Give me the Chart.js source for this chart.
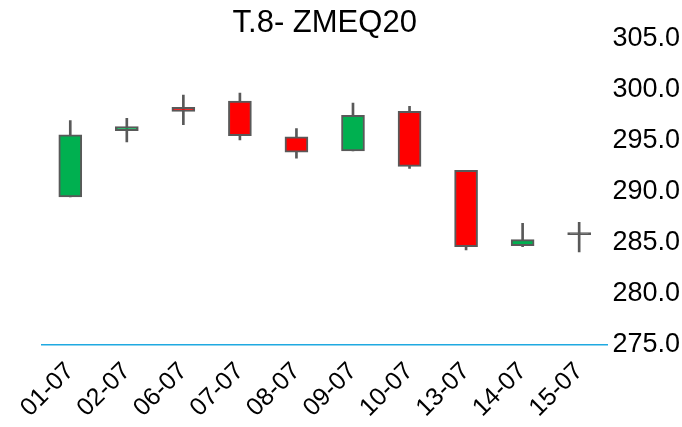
<!DOCTYPE html>
<html>
<head>
<meta charset="utf-8">
<script src="https://cdn.jsdelivr.net/npm/chart.js@4/dist/chart.umd.min.js"></script>
<style>
  html, body { margin: 0; padding: 0; background: #fff; }
  #wrap { width: 682px; height: 427px; }
</style>
</head>
<body>
<div id="wrap"><canvas id="myChart" width="682" height="427"></canvas></div>
<script>
// candle data
var labels = ['01-07', '02-07', '06-07', '07-07', '08-07', '09-07', '10-07', '13-07', '14-07', '15-07'];
var opens  = [289.5, 296.0, 298.3, 298.9, 295.4, 294.0, 297.9, 292.1, 284.7, 285.8];
var highs  = [297.0, 297.2, 299.5, 299.7, 296.2, 298.7, 298.4, 292.1, 286.9, 287.0];
var lows   = [289.5, 294.9, 296.6, 295.1, 293.3, 294.0, 292.3, 284.3, 284.6, 284.1];
var closes = [295.6, 296.4, 297.9, 295.5, 293.9, 297.5, 292.5, 284.6, 285.3, 285.8];
var yTicks = [275, 280, 285, 290, 295, 300, 305];

var bodies = [], wicks = [], bodyColors = [];
for (var i = 0; i < labels.length; i++) {
  bodies.push([opens[i], closes[i]]);
  wicks.push([lows[i], highs[i]]);
  if (closes[i] > opens[i]) bodyColors.push('#00b050');
  else if (closes[i] < opens[i]) bodyColors.push('#ff0000');
  else bodyColors.push('#595959');
}

Chart.defaults.font.family = '"Liberation Sans", Arial, sans-serif';
Chart.defaults.color = '#000';

var ctx = document.getElementById('myChart').getContext('2d');
var myChart = new Chart(ctx, {
  type: 'bar',
  data: {
    labels: labels,
    datasets: [{
      label: 'body',
      data: bodies,
      backgroundColor: bodyColors,
      borderColor: '#595959',
      borderWidth: 2,
      borderSkipped: false,
      barThickness: 23,
      minBarLength: 2,
      grouped: false
    },
    {
      label: 'wick',
      data: wicks,
      backgroundColor: '#595959',
      borderWidth: 0,
      barThickness: 2,
      grouped: false
    }]
  },
  options: {
    responsive: false,
    animation: false,
    layout: { padding: { left: 42, right: -3, top: 0, bottom: 0 } },
    plugins: {
      legend: { display: false },
      tooltip: { enabled: false },
      title: {
        display: true,
        text: 'T.8- ZMEQ20',
        fullSize: false,
        color: '#000',
        font: { size: 31, weight: 'normal', lineHeight: 1 },
        padding: { top: 8, bottom: 0 }
      }
    },
    scales: {
      x: {
        offset: true,
        grid: { display: false },
        border: { display: true, color: '#1fa9e1', width: 1.5 },
        ticks: {
          maxRotation: 45,
          minRotation: 45,
          padding: 4,
          font: { size: 25 }
        }
      },
      y: {
        position: 'right',
        min: 275,
        max: 305,
        grid: { display: false, drawTicks: false, tickLength: 0 },
        border: { display: false },
        afterBuildTicks: function (axis) {
          axis.ticks = yTicks.map(function (v) { return { value: v }; });
        },
        ticks: {
          padding: 5,
          font: { size: 27 },
          callback: function (v) { return Number(v).toFixed(1); }
        }
      }
    }
  }
});
</script>
</body>
</html>
